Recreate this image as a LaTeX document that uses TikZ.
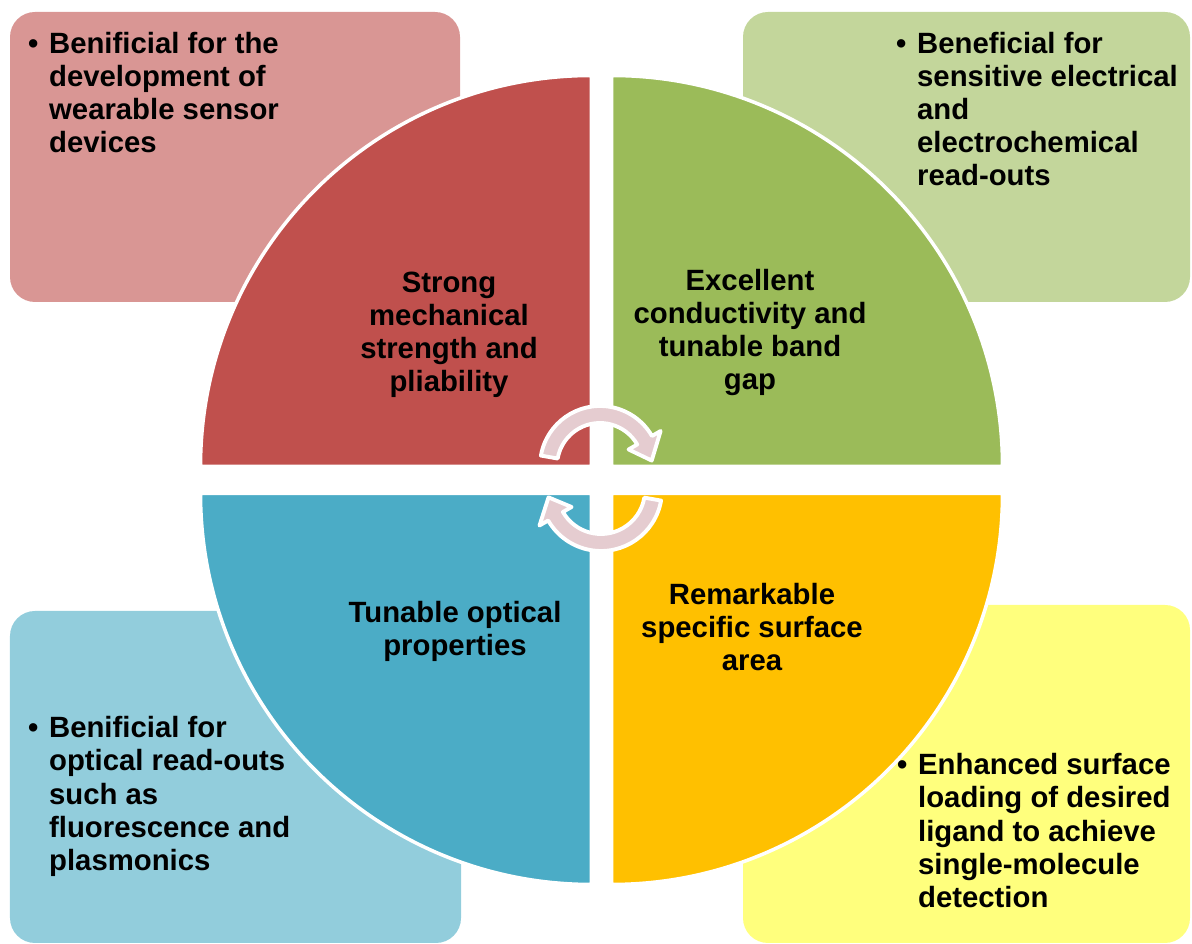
\documentclass[tikz,border=0pt]{standalone}
\usepackage{fontspec}
\setmainfont{Liberation Sans}
\definecolor{redmain}{RGB}{192,80,77}
\definecolor{redlight}{RGB}{217,150,148}
\definecolor{greenmain}{RGB}{155,187,89}
\definecolor{greenlight}{RGB}{195,214,155}
\definecolor{bluemain}{RGB}{75,172,198}
\definecolor{bluelight}{RGB}{146,205,220}
\definecolor{yellowmain}{RGB}{255,192,0}
\definecolor{yellowlight}{RGB}{255,255,125}
\definecolor{arrowpink}{RGB}{229,204,208}
\newcommand{\bulletlines}[1]{\textbullet\hspace{3.04pt}\begin{tabular}[t]{@{}l@{}}#1\end{tabular}}
\newcommand{\centerlines}[1]{\begin{tabular}[t]{@{}c@{}}#1\end{tabular}}

\begin{document}
\begin{tikzpicture}[
    panel/.style={rounded corners=0.25cm, inner sep=0pt},
    quarter/.style={draw=white, line width=1pt},
    cyclearrow/.style={fill=arrowpink, draw=white, line width=1.1pt, line join=round},
    blurb/.style={inner sep=0pt, font={\fontsize{8.34pt}{9.39pt}\selectfont\bfseries}}
]
    \useasboundingbox (0,0) rectangle (11.92,9.44);

    % Outer panels
    \node[panel, fill=redlight, minimum width=4.50cm, minimum height=2.90cm] (redpanel) at (2.35,7.87) {};
    \node[panel, fill=greenlight, minimum width=4.47cm, minimum height=2.90cm] (greenpanel) at (9.665,7.87) {};
    \node[panel, fill=bluelight, minimum width=4.51cm, minimum height=3.32cm] (bluepanel) at (2.355,1.67) {};
    \node[panel, fill=yellowlight, minimum width=4.47cm, minimum height=3.38cm] (yellowpanel) at (9.665,1.70) {};

    % Quarter discs
    \filldraw[quarter, fill=redmain] (5.915,4.775) -- ++(-3.91,0) arc[start angle=180, end angle=90, radius=3.91] -- cycle;
    \filldraw[quarter, fill=greenmain] (6.115,4.775) -- ++(3.91,0) arc[start angle=0, end angle=90, radius=3.91] -- cycle;
    \filldraw[quarter, fill=bluemain] (5.915,4.505) -- ++(-3.91,0) arc[start angle=180, end angle=270, radius=3.91] -- cycle;
    \filldraw[quarter, fill=yellowmain] (6.115,4.505) -- ++(3.91,0) arc[start angle=360, end angle=270, radius=3.91] -- cycle;

    % Cycle arrows
    \begin{scope}[shift={(6.00,4.78)}]
        \filldraw[cyclearrow] (170:0.60) arc[start angle=170, end angle=30, radius=0.60] -- (30:0.70) -- (6:0.52) -- (30:0.33) -- (30:0.43) arc[start angle=30, end angle=170, radius=0.43] -- cycle;
    \end{scope}
    \begin{scope}[shift={(6.01,4.54)}]
        \filldraw[cyclearrow] (-10:0.61) arc[start angle=-10, end angle=-150, radius=0.61] -- (-150:0.71) -- (-172:0.53) -- (-150:0.34) -- (-150:0.44) arc[start angle=-150, end angle=-10, radius=0.44] -- cycle;
    \end{scope}

    % Properties
    \node[blurb, anchor=base] (redlabel) at (4.49,6.51) {\centerlines{Strong\\mechanical\\strength and\\pliability}};
    \node[blurb, anchor=base] (greenlabel) at (7.50,6.53) {\centerlines{Excellent\\conductivity and\\tunable band\\gap}};
    \node[blurb, anchor=base] (bluelabel) at (4.55,3.21) {\centerlines{Tunable optical\\properties}};
    \node[blurb, anchor=base] (yellowlabel) at (7.52,3.39) {\centerlines{Remarkable\\specific surface\\area}};

    % Benefits
    \node[blurb, anchor=base west] (rednote) at (0.275,8.90) {\bulletlines{Benificial for the\\development of\\wearable sensor\\devices}};
    \node[blurb, anchor=base west] (greennote) at (8.955,8.90) {\bulletlines{Beneficial for\\sensitive electrical\\and\\electrochemical\\read-outs}};
    \node[blurb, anchor=base west] (bluenote) at (0.275,2.06) {\bulletlines{Benificial for\\optical read-outs\\such as\\fluorescence and\\plasmonics}};
    \node[blurb, anchor=base west] (yellownote) at (8.965,1.69) {\bulletlines{Enhanced surface\\loading of desired\\ligand to achieve\\single-molecule\\detection}};
\end{tikzpicture}
\end{document}
